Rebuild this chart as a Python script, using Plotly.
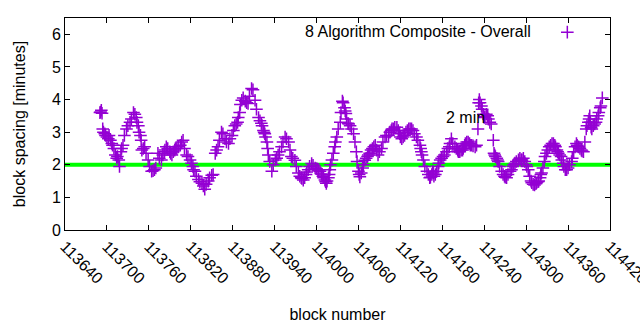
import plotly.graph_objects as go

# readings, first pass along the curve
blocks_a = [113690,113692,113694,113697,113700,113703,113707,113710,113714,113717,113720,113723,113728,113733,113738,113742,113745,113748,113750,113754,113759,113764,113768,113773,113778,113782,113785,113790,113793,113797,113800,113805,113809,113814,113819,113823,113826,113831,113836,113840,113845,113850,113855,113859,113864,113869,113874,113879,113883,113887,113890,113893,113898,113902,113907,113912,113917,113921,113924,113926,113929,113931,113936,113941,113945,113950,113955,113960,113964,113969,113974,113978,113981,113985,113988,113993,113998,114002,114005,114009,114012,114014,114017,114019,114022,114026,114029,114034,114037,114040,114042,114045,114048,114053,114057,114060,114062,114066,114069,114073,114076,114080,114084,114088,114093,114098,114103,114107,114110,114115,114119,114122,114126,114130,114134,114138,114143,114148,114150,114153,114158,114162,114165,114167,114170,114174,114177,114181,114186,114190,114193,114198,114202,114205,114209,114212,114215,114219,114222,114227,114231,114233,114236,114239,114241,114245,114248,114253,114255,114258,114260,114265,114269,114272,114277,114281,114284,114289,114293,114296,114300,114303,114307,114310,114314,114317,114320,114322,114326,114329,114333,114337,114341,114344,114346,114350,114353,114356,114360,114365,114368,114372,114375,114379,114382,114386,114389,114391,114393,114396,114400,114403,114406,114409]
spacing_a = [3.6,3.67,3.1,2.95,2.85,2.9,2.65,2.5,2.2,2.15,2.4,2.6,3.1,3.3,3.6,3.45,3.2,2.9,2.45,2.55,2.15,1.8,1.85,2.35,2.15,2.4,2.55,2.4,2.3,2.45,2.5,2.6,2.75,2.3,2.15,1.95,1.8,1.55,1.43,1.25,1.5,1.68,2.35,2.55,3.0,2.8,2.65,2.9,3.2,3.3,3.6,3.98,3.95,3.88,4.34,3.98,3.45,3.27,3.05,2.95,2.7,2.3,1.8,2.15,2.3,2.55,2.85,2.7,2.25,2.14,1.75,1.6,1.53,1.7,1.85,2.04,1.9,1.85,1.8,1.65,1.53,1.43,1.6,1.85,2.15,2.55,2.85,3.3,3.95,3.75,3.57,3.27,3.2,2.95,2.4,1.8,1.63,1.9,2.14,2.25,2.35,2.5,2.6,2.3,2.5,2.85,2.9,3.05,3.1,3.15,2.95,2.8,2.9,3.05,3.1,3.05,2.85,2.6,2.4,2.15,1.8,1.6,1.7,1.75,1.7,1.95,2.15,2.25,2.4,2.55,2.8,2.55,2.45,2.4,2.45,2.6,2.7,2.65,2.6,2.55,3.1,4.0,3.8,3.55,3.47,3.5,3.3,2.75,2.3,2.2,2.1,1.8,1.65,1.6,1.8,1.95,2.05,2.15,2.15,2.2,2.0,1.85,1.5,1.4,1.42,1.48,1.6,1.75,2.1,2.35,2.55,2.65,2.6,2.45,2.35,2.25,2.05,1.85,1.9,2.1,2.4,2.65,2.55,2.45,2.4,3.1,3.3,3.5,3.15,3.2,3.3,3.5,3.75,4.05]

# readings, second pass (the marks between the first-pass ones)
blocks_b = [113691,113693,113695,113698,113702,113705,113708,113712,113715,113718,113721,113725,113730,113735,113740,113743,113746,113749,113752,113756,113761,113766,113770,113775,113780,113783,113787,113791,113795,113798,113802,113807,113811,113816,113821,113824,113828,113833,113838,113842,113847,113852,113857,113861,113866,113871,113876,113881,113885,113888,113891,113895,113900,113904,113909,113914,113919,113922,113925,113927,113930,113933,113938,113943,113947,113952,113957,113962,113966,113971,113976,113979,113983,113986,113990,113995,114000,114003,114007,114010,114013,114015,114018,114020,114024,114027,114031,114035,114038,114041,114043,114046,114050,114055,114058,114061,114064,114067,114071,114074,114078,114082,114086,114090,114095,114100,114105,114108,114112,114117,114120,114124,114128,114132,114136,114140,114145,114149,114151,114155,114160,114163,114166,114168,114172,114175,114179,114183,114188,114191,114195,114200,114203,114207,114210,114213,114217,114220,114224,114229,114232,114234,114237,114240,114243,114246,114250,114254,114256,114259,114262,114267,114270,114274,114279,114282,114286,114291,114294,114298,114301,114305,114308,114312,114315,114318,114321,114324,114327,114331,114335,114339,114342,114345,114348,114351,114354,114358,114362,114366,114370,114373,114377,114380,114384,114387,114390,114392,114394,114398,114401,114404,114407]
spacing_b = [3.62,3.58,3.0,2.9,2.8,2.75,2.6,2.3,2.25,1.95,2.5,2.9,3.2,3.4,3.55,3.3,3.0,2.75,2.5,2.35,1.95,1.82,1.9,2.2,2.3,2.45,2.5,2.35,2.4,2.5,2.55,2.7,2.5,2.25,2.05,1.85,1.65,1.48,1.35,1.4,1.6,1.7,2.45,2.75,2.95,2.7,2.8,3.05,3.25,3.45,3.85,4.05,3.9,4.1,4.3,3.7,3.35,3.2,3.0,2.85,2.5,2.1,2.0,2.2,2.4,2.7,2.8,2.45,2.2,1.95,1.65,1.58,1.6,1.78,1.95,1.98,1.88,1.85,1.72,1.6,1.48,1.5,1.7,2.0,2.35,2.7,3.1,3.6,3.9,3.65,3.4,3.25,3.1,2.7,2.1,1.7,1.75,2.0,2.2,2.3,2.45,2.55,2.45,2.4,2.7,2.9,3.0,3.1,3.15,3.05,2.85,2.85,3.0,3.1,3.1,2.95,2.75,2.5,2.3,1.95,1.7,1.62,1.8,1.65,1.8,2.05,2.2,2.3,2.5,2.65,2.65,2.5,2.4,2.45,2.5,2.65,2.7,2.6,2.58,2.6,3.9,3.9,3.7,3.45,3.55,3.4,3.25,2.35,2.25,2.15,1.95,1.7,1.62,1.7,1.85,2.0,2.1,2.2,2.15,2.1,1.95,1.65,1.45,1.38,1.45,1.5,1.7,1.9,2.25,2.45,2.6,2.65,2.55,2.4,2.3,2.15,1.95,1.85,2.0,2.2,2.55,2.6,2.5,2.42,2.7,3.2,3.4,3.3,3.1,3.25,3.4,3.6,3.8]

ref_x = [113640, 114420]
ref_y = [2, 2]

x_ticks = list(range(113640, 114421, 60))
y_ticks = [0, 1, 2, 3, 4, 5, 6]

FONT = "Liberation Sans, Arial, sans-serif"
PURPLE = "#9400D3"

pts = sorted(zip(blocks_a + blocks_b, spacing_a + spacing_b))
xs = [p[0] for p in pts]
ys = [p[1] for p in pts]

fig = go.Figure()
fig.add_trace(go.Scatter(
    x=ref_x, y=ref_y, mode="lines",
    line=dict(color="#00FF00", width=4),
    showlegend=False, hoverinfo="skip",
))
fig.add_trace(go.Scatter(
    x=xs, y=ys, mode="markers", name=" ",
    marker=dict(symbol="cross-thin", size=9, line=dict(color=PURPLE, width=1.5), color=PURPLE),
    showlegend=True,
))

axis_common = dict(
    showline=True, linecolor="black", linewidth=1, mirror="ticks",
    ticks="inside", ticklen=5, tickcolor="black", tickwidth=1,
    showgrid=False, zeroline=False, automargin=False,
    tickfont=dict(family=FONT, size=16, color="black"),
)

fig.update_layout(
    width=640, height=330,
    margin=dict(l=65, r=30, t=18, b=100),
    paper_bgcolor="white", plot_bgcolor="white",
    font=dict(family=FONT, size=16, color="black"),
    xaxis=dict(range=ref_x, tickmode="array", tickvals=x_ticks,
               ticktext=[str(v) for v in x_ticks], tickangle=45,
               ticklabeloverflow="allow",
               title=dict(text="block number", font=dict(family=FONT, size=16), standoff=22),
               **axis_common),
    yaxis=dict(range=[0, 6.5], tickmode="array", tickvals=y_ticks,
               ticktext=[str(v) for v in y_ticks],
               title=dict(text="block spacing [minutes]", font=dict(family=FONT, size=16), standoff=22),
               **axis_common),
    legend=dict(x=0.885, y=1.013, xanchor="left", yanchor="top",
                bgcolor="rgba(0,0,0,0)", font=dict(family=FONT, size=16)),
    annotations=[
        dict(text="8 Algorithm Composite - Overall", xref="paper", yref="paper",
             x=(533 - 65) / 545, y=(230 - 32) / 212, xanchor="right", yanchor="middle",
             showarrow=False, font=dict(family=FONT, size=16, color="black")),
        dict(text="2 min", xref="x", yref="y", x=114182, y=3.46,
             xanchor="left", yanchor="middle", showarrow=False,
             font=dict(family=FONT, size=16, color="black")),
    ],
)

fig.write_html("out.html")
